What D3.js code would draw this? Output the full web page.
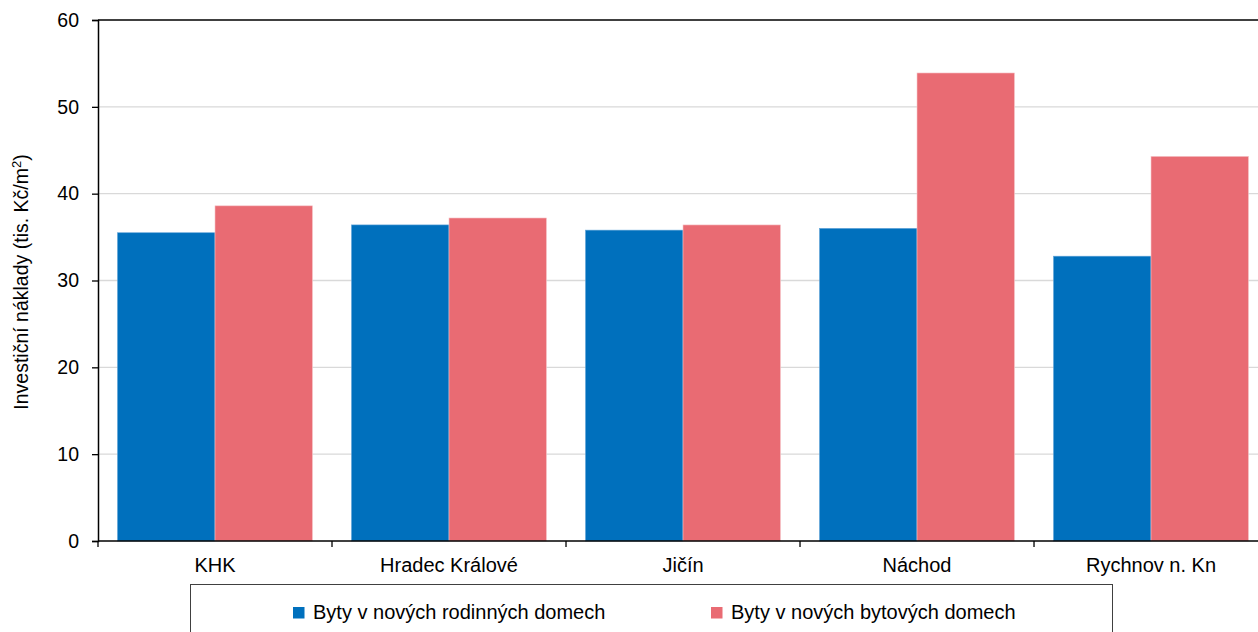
<!DOCTYPE html>
<html>
<head>
<meta charset="utf-8">
<script src="https://cdn.jsdelivr.net/npm/d3@7"></script>
<style>
  html, body { margin: 0; padding: 0; background: #fff; }
  svg { display: block; font-family: "Liberation Sans", Arial, sans-serif; }
</style>
</head>
<body>
<svg id="chart" width="1258" height="632"></svg>
<script>
// Districts of the Hradec Králové region
const categories = ["KHK", "Hradec Králové", "Jičín", "Náchod", "Rychnov n. Kn"];
// Investment costs, thousands CZK per m²
const familyHouses = [35.5, 36.4, 35.8, 36.0, 32.8];
const apartmentBuildings = [38.6, 37.2, 36.4, 53.9, 44.3];
const seriesNames = ["Byty v nových rodinných domech", "Byty v nových bytových domech"];
const seriesColors = ["#0070bd", "#e96b73"];
const yTicks = [0, 10, 20, 30, 40, 50, 60];

const svg = d3.select("#chart");
const margin = { left: 98, top: 20, bottom: 91 };
const W = 1258, H = 632;
const visibleW = W - margin.left;          // plot area runs past the right edge
const plotW = 1170;
const innerH = H - margin.top - margin.bottom;

const g = svg.append("g").attr("transform", `translate(${margin.left},${margin.top})`);

const x0 = d3.scaleBand().domain(categories).range([0, plotW])
  .paddingInner(0.1667).paddingOuter(0.0833);
const x1 = d3.scaleBand().domain([0, 1]).range([0, x0.bandwidth()]);
const y = d3.scaleLinear().domain([0, 60]).range([innerH, 0]);

// horizontal gridlines
g.append("g").selectAll("line")
  .data(yTicks.filter(t => t > 0 && t < 60))
  .join("line")
  .attr("x1", 0).attr("x2", visibleW)
  .attr("y1", d => y(d)).attr("y2", d => y(d))
  .attr("stroke", "#d9d9d9").attr("stroke-width", 1.3);

// top border line
g.append("line").attr("x1", 0).attr("x2", visibleW)
  .attr("y1", y(60)).attr("y2", y(60))
  .attr("stroke", "#000").attr("stroke-width", 1.3);

// bars
const groups = g.append("g").selectAll("g")
  .data(categories)
  .join("g")
  .attr("transform", d => `translate(${x0(d)},0)`);

groups.selectAll("rect")
  .data((d, i) => [familyHouses[i], apartmentBuildings[i]])
  .join("rect")
  .attr("x", (d, j) => x1(j))
  .attr("width", x1.bandwidth())
  .attr("y", d => y(d))
  .attr("height", d => y(0) - y(d))
  .attr("fill", (d, j) => seriesColors[j])
  .attr("stroke", (d, j) => j === 0 ? "#5fa3d8" : "#f6c8cc")
  .attr("stroke-width", 0.6);

// y axis
const yAxis = g.append("g")
  .call(d3.axisLeft(y).tickValues(yTicks).tickSize(6).tickPadding(13));
yAxis.select(".domain").attr("stroke", "#000").attr("stroke-width", 1.5);
yAxis.selectAll(".tick line").attr("stroke", "#000").attr("stroke-width", 1.3);
yAxis.selectAll(".tick text")
  .attr("font-size", 19.5).attr("fill", "#000")
  .attr("font-family", "Liberation Sans, Arial, sans-serif");

// x axis with ticks between categories
const xAxis = g.append("g").attr("transform", `translate(0,${innerH})`);
xAxis.append("line").attr("x1", 0).attr("x2", visibleW)
  .attr("stroke", "#000").attr("stroke-width", 1.5);
const step = x0.step();
const boundaries = d3.range(categories.length + 1).map(i => i * step);
xAxis.selectAll("line.tk").data(boundaries).join("line")
  .attr("class", "tk")
  .attr("x1", d => d).attr("x2", d => d)
  .attr("y1", 0).attr("y2", 6)
  .attr("stroke", "#000").attr("stroke-width", 1.3);
xAxis.selectAll("text").data(categories).join("text")
  .attr("x", d => x0(d) + x0.bandwidth() / 2)
  .attr("y", 31)
  .attr("text-anchor", "middle")
  .attr("font-size", 20).attr("fill", "#000")
  .text(d => d);

// y axis title
const title = svg.append("text")
  .attr("transform", "translate(28,282) rotate(-90)")
  .attr("text-anchor", "middle")
  .attr("font-size", 19.5).attr("fill", "#000");
title.append("tspan").text("Investiční náklady (tis. Kč/m");
title.append("tspan").attr("dy", -7).attr("font-size", 13).text("2");
title.append("tspan").attr("dy", 7).text(")");

// legend
const legend = svg.append("g");
legend.append("rect")
  .attr("x", 190.5).attr("y", 584.5).attr("width", 922).attr("height", 60)
  .attr("fill", "#fff").attr("stroke", "#404040").attr("stroke-width", 1);
const legendX = [293, 711];
const items = legend.selectAll("g.item").data(seriesNames).join("g")
  .attr("class", "item")
  .attr("transform", (d, i) => `translate(${legendX[i]},607)`);
items.append("rect").attr("width", 11.5).attr("height", 11.5)
  .attr("fill", (d, i) => seriesColors[i]);
items.append("text").attr("x", 20).attr("y", 12)
  .attr("font-size", 20).attr("fill", "#000")
  .text(d => d);
</script>
</body>
</html>
